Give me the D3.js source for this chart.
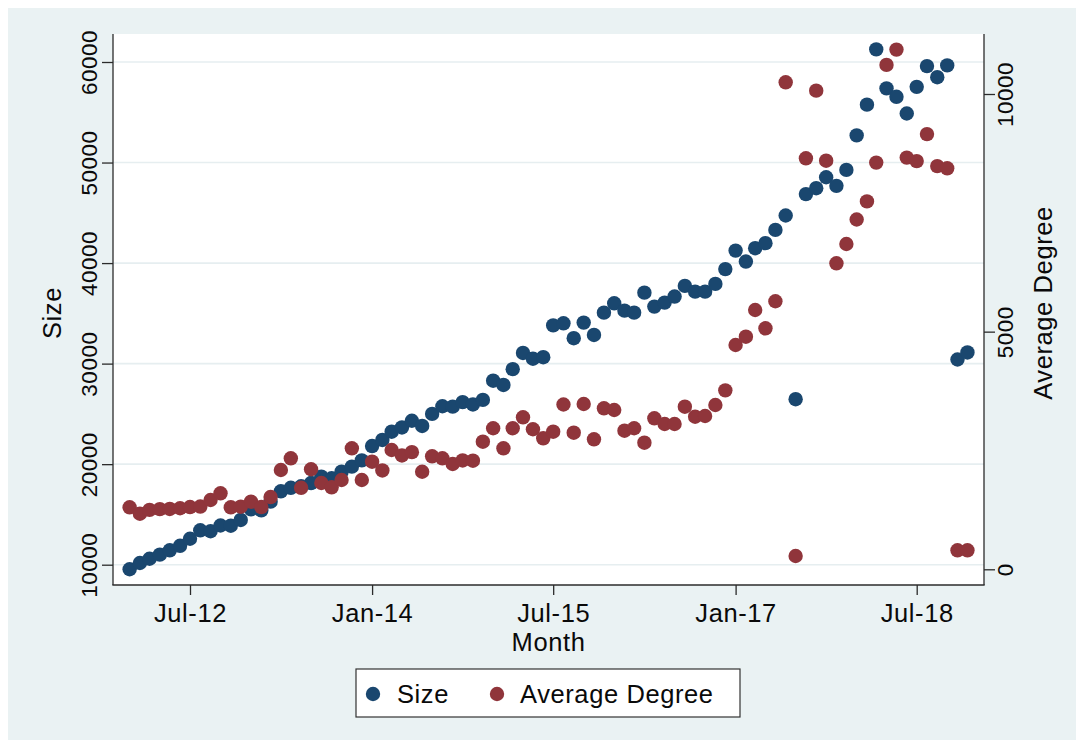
<!DOCTYPE html>
<html>
<head>
<meta charset="utf-8">
<script src="https://cdn.jsdelivr.net/npm/d3@7"></script>
<style>
  html, body { margin: 0; padding: 0; background: #ffffff; }
  svg { display: block; font-family: "Liberation Sans", Arial, Helvetica, sans-serif; }
</style>
</head>
<body>
<svg id="chart" width="1084" height="748"></svg>
<script>
// ---- data ----
const firstMonth = "2012-01-01";
const sizeValues = [
  9550, 10170, 10590, 11000, 11430, 11880, 12580, 13420, 13330, 13900, 13880, 14450,
  15500, 15400, 16270, 17300, 17650, 17800, 18120, 18760, 18600, 19250, 19750, 20380,
  21800, 22410, 23230, 23650, 24320, 23800, 25000, 25760, 25720, 26170, 25940, 26390,
  28300, 27880, 29450, 31060, 30490, 30640, 33800, 34010, 32530, 34080, 32850, 35070,
  36000, 35270, 35070, 37060, 35670, 36070, 36670, 37730, 37160, 37160, 37930, 39400,
  41240, 40150, 41480, 41980, 43300, 44730, 26460, 46860, 47450, 48540, 47680, 49270,
  52700, 55760, 61260, 57380, 56540, 54880, 57530, 59590, 58490, 59660, 30410, 31110
];
const degreeValues = [
  1304, 1170, 1250, 1265, 1270, 1285, 1310, 1320, 1458, 1599, 1304, 1317,
  1422, 1310, 1520, 2089, 2335, 1715, 2105, 1815, 1725, 1879, 2546, 1879,
  2264, 2080, 2510, 2395, 2465, 2053, 2377, 2335, 2215, 2290, 2285, 2685,
  2967, 2546, 2967, 3198, 2946, 2756, 2895, 3467, 2874, 3478, 2735, 3387,
  3352, 2916, 2967, 2664, 3177, 3057, 3057, 3421, 3211, 3225, 3457, 3765,
  4719, 4894, 5455, 5070, 5640, 10246, 280, 8647, 10070, 8597, 6438, 6844,
  7360, 7740, 8557, 10612, 10934, 8662, 8588, 9156, 8483, 8437, 400, 400
];
const leftTicks = [10000, 20000, 30000, 40000, 50000, 60000];
const rightTicks = [0, 5000, 10000];
const xTickDates = ["2012-07-01", "2014-01-01", "2015-07-01", "2017-01-01", "2018-07-01"];
const xTickLabels = ["Jul-12", "Jan-14", "Jul-15", "Jan-17", "Jul-18"];
const seriesNames = ["Size", "Average Degree"];
const xTitle = "Month";

// ---- build ----
const parse = d3.utcParse("%Y-%m-%d");
const start = parse(firstMonth);
const months = sizeValues.map((_, i) => d3.utcMonth.offset(start, i));
const tickDates = xTickDates.map(parse);

const svg = d3.select("#chart");
const W = 1084, H = 748;
const plot = { left: 113, right: 984, top: 34, bottom: 585 };
const C = { bg: "#eaf2f3", grid: "#e6eef0", axis: "#2b2b2b", blue: "#1a476f", red: "#90353b", text: "#0a0a0a" };
const F = { big: 25.5, bigLS: "0.6px", tick: 22.5, tickLS: "0.5px" };

svg.append("rect").attr("width", W).attr("height", H).attr("fill", "#ffffff");
svg.append("rect").attr("x", 8).attr("y", 8).attr("width", W - 16).attr("height", H - 16).attr("fill", C.bg);
svg.append("rect").attr("x", plot.left).attr("y", plot.top)
  .attr("width", plot.right - plot.left).attr("height", plot.bottom - plot.top).attr("fill", "#ffffff");

const x = d3.scaleUtc().domain([tickDates[0], tickDates[tickDates.length - 1]]).range([190, 916.7]);
const yL = d3.scaleLinear().domain([10000, 60000]).range([564.7, 62]);
const yR = d3.scaleLinear().domain([0, 10000]).range([569.3, 94]);

// gridlines
svg.append("g").selectAll("line").data(leftTicks).join("line")
  .attr("x1", plot.left).attr("x2", plot.right)
  .attr("y1", d => yL(d)).attr("y2", d => yL(d))
  .attr("stroke", C.grid).attr("stroke-width", 1.6);

// left axis
const gL = svg.append("g").attr("transform", `translate(${plot.left},0)`)
  .call(d3.axisLeft(yL).tickValues(leftTicks).tickSize(11).tickSizeOuter(0).tickFormat(d3.format("d")));
gL.select(".domain").remove();
gL.selectAll(".tick line").attr("stroke", C.axis).attr("stroke-width", 1.3);
gL.selectAll(".tick text").attr("transform", "rotate(-90)").attr("x", 0).attr("y", -16).attr("dy", 0)
  .attr("text-anchor", "middle").attr("font-size", F.tick).attr("letter-spacing", F.tickLS).attr("fill", C.text)
  .attr("font-family", "Liberation Sans, Arial, sans-serif");

// right axis
const gR = svg.append("g").attr("transform", `translate(${plot.right},0)`)
  .call(d3.axisRight(yR).tickValues(rightTicks).tickSize(11).tickSizeOuter(0).tickFormat(d3.format("d")));
gR.select(".domain").remove();
gR.selectAll(".tick line").attr("stroke", C.axis).attr("stroke-width", 1.3);
gR.selectAll(".tick text").attr("transform", "rotate(-90)").attr("x", 0).attr("y", 29).attr("dy", 0)
  .attr("text-anchor", "middle").attr("font-size", F.tick).attr("letter-spacing", F.tickLS).attr("fill", C.text)
  .attr("font-family", "Liberation Sans, Arial, sans-serif");

// bottom axis
const gB = svg.append("g").attr("transform", `translate(0,${plot.bottom})`)
  .call(d3.axisBottom(x).tickValues(tickDates).tickSize(10).tickSizeOuter(0)
    .tickFormat((d, i) => xTickLabels[i]));
gB.select(".domain").remove();
gB.selectAll(".tick line").attr("stroke", C.axis).attr("stroke-width", 1.3);
gB.selectAll(".tick text").attr("y", 37).attr("dy", 0).attr("font-size", F.big).attr("letter-spacing", F.bigLS)
  .attr("fill", C.text).attr("font-family", "Liberation Sans, Arial, sans-serif");

// axis lines
svg.append("line").attr("x1", plot.left).attr("x2", plot.left).attr("y1", plot.top).attr("y2", plot.bottom)
  .attr("stroke", C.axis).attr("stroke-width", 1.3);
svg.append("line").attr("x1", plot.right).attr("x2", plot.right).attr("y1", plot.top).attr("y2", plot.bottom)
  .attr("stroke", C.axis).attr("stroke-width", 1.3);
svg.append("line").attr("x1", plot.left - 0.65).attr("x2", plot.right + 0.65).attr("y1", plot.bottom).attr("y2", plot.bottom)
  .attr("stroke", C.axis).attr("stroke-width", 1.3);

// markers
const R = 7.2;
svg.append("g").selectAll("circle").data(sizeValues).join("circle")
  .attr("cx", (d, i) => x(months[i])).attr("cy", d => yL(d)).attr("r", R).attr("fill", C.blue);
svg.append("g").selectAll("circle").data(degreeValues).join("circle")
  .attr("cx", (d, i) => x(months[i])).attr("cy", d => yR(d)).attr("r", R).attr("fill", C.red);

// titles
svg.append("text").attr("transform", "translate(61,313) rotate(-90)").attr("text-anchor", "middle")
  .attr("font-size", F.big).attr("letter-spacing", F.bigLS).attr("fill", C.text).text(seriesNames[0]);
svg.append("text").attr("transform", "translate(1052,303) rotate(-90)").attr("text-anchor", "middle")
  .attr("font-size", F.big).attr("letter-spacing", F.bigLS).attr("fill", C.text).text(seriesNames[1]);
svg.append("text").attr("x", (plot.left + plot.right) / 2).attr("y", 651).attr("text-anchor", "middle")
  .attr("font-size", F.big).attr("letter-spacing", F.bigLS).attr("fill", C.text).text(xTitle);

// legend
const lg = svg.append("g");
lg.append("rect").attr("x", 356).attr("y", 669).attr("width", 384).attr("height", 48)
  .attr("fill", "#ffffff").attr("stroke", "#333").attr("stroke-width", 1.2);
const legendItems = [
  { name: seriesNames[0], color: C.blue, cx: 373, tx: 397 },
  { name: seriesNames[1], color: C.red, cx: 497, tx: 520 }
];
legendItems.forEach(it => {
  lg.append("circle").attr("cx", it.cx).attr("cy", 694).attr("r", R).attr("fill", it.color);
  lg.append("text").attr("x", it.tx).attr("y", 703).attr("font-size", F.big).attr("letter-spacing", F.bigLS)
    .attr("fill", C.text).text(it.name);
});
</script>
</body>
</html>
